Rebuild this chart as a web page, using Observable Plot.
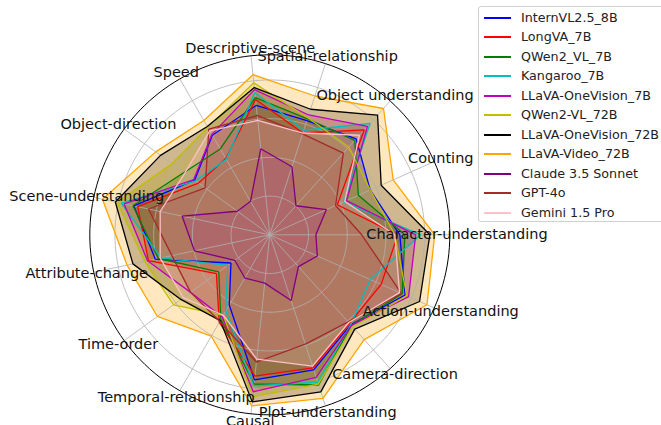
<!DOCTYPE html>
<html><head><meta charset="utf-8">
<script src="https://cdn.jsdelivr.net/npm/d3@7"></script>
<script src="https://cdn.jsdelivr.net/npm/@observablehq/plot@0.6"></script>
<style>
body{margin:0;background:#fff;}
#chart{position:relative;width:661px;height:425px;overflow:hidden;font-family:"DejaVu Sans",sans-serif;}
#legend{position:absolute;left:478px;top:6px;width:200px;height:216px;border:1px solid #d0d0d0;border-radius:3px;background:rgba(255,255,255,0.85);box-sizing:border-box;}
.item{position:absolute;left:0;height:16px;font-size:12.7px;line-height:16px;white-space:nowrap;color:#222;}
.sw{position:absolute;left:5px;top:7px;width:27px;height:2px;}
.lb{position:absolute;left:42px;top:0;}
</style></head><body><div id="chart"><div id="legend"></div></div>
<script>
// axis categories (counter-clockwise from east)
const categories = ["Character-understanding","Counting","Object understanding","Spatial-relationship","Descriptive-scene","Speed","Object-direction","Scene-understanding","Attribute-change","Time-order","Temporal-relationship","Causal","Plot-understanding","Camera-direction","Action-understanding"];
const models = ["InternVL2.5_8B","LongVA_7B","QWen2_VL_7B","Kangaroo_7B","LLaVA-OneVision_7B","QWen2-VL_72B","LLaVA-OneVision_72B","LLaVA-Video_72B","Claude 3.5 Sonnet","GPT-4o","Gemini 1.5 Pro"];
const colors = ["#0000ff","#ff0000","#008000","#00bfbf","#bf00bf","#bfbf00","#000000","#ffa500","#800080","#a52a2a","#ffc0cb"];
// series values, one per category
const internvl25_8b   = [67.2,56.8,66.7,62.0,67.2,59.4,48.0,71.8,60.5,24.8,41.9,75.4,73.4,62.5,76.5];
const longva_7b       = [66.1,38.2,72.9,55.3,70.3,45.5,45.5,69.8,64.1,34.1,52.2,73.4,72.3,61.5,63.0];
const qwen2vl_7b      = [69.8,50.1,65.6,63.0,71.3,51.2,54.8,72.3,58.9,32.6,50.6,77.5,81.6,63.0,74.9];
const kangaroo_7b     = [78.0,41.9,77.5,56.8,73.9,45.0,47.5,78.5,57.4,26.9,45.5,78.5,80.1,62.5,56.8];
const llavaov_7b      = [75.4,43.4,75.4,65.1,75.4,59.9,48.6,77.0,64.6,50.6,49.1,81.6,77.5,63.0,78.5];
const qwen2vl_72b     = [64.6,56.8,61.0,63.6,79.0,64.1,62.5,80.6,66.1,61.5,48.0,84.2,81.1,64.1,77.5];
const llavaov_72b     = [82.7,63.0,83.2,68.2,76.5,64.6,69.8,81.6,72.3,56.8,51.2,86.8,85.3,65.6,84.7];
const llavavideo_72b  = [85.2,69.8,87.8,75.4,83.2,68.2,72.9,88.4,75.4,71.8,60.5,88.9,88.9,72.9,88.9];
const claude35        = [23.8,32.0,20.2,37.0,44.7,20.0,20.7,46.3,39.8,22.4,25.8,25.1,35.7,22.1,26.9];
const gpt4o           = [47.5,37.2,56.8,54.8,62.0,63.0,41.3,64.1,51.7,50.6,51.7,66.1,59.4,60.5,74.4];
const gemini15pro     = [64.6,42.4,69.2,55.3,59.4,62.0,54.3,57.9,57.9,55.3,48.0,64.6,71.3,61.0,73.4];
const seriesValues = [internvl25_8b,longva_7b,qwen2vl_7b,kangaroo_7b,llavaov_7b,qwen2vl_72b,llavaov_72b,llavavideo_72b,claude35,gpt4o,gemini15pro];
const ringTicks = [20,40,60,80];
const rMax = 93;

const n = categories.length;
const ang = i => 2*Math.PI*i/n;
const polygon = vals => {
  const pts = vals.map((v,i)=>({x:v*Math.cos(ang(i)), y:v*Math.sin(ang(i))}));
  pts.push(pts[0]);
  return pts;
};
const circle = r => d3.range(0,361,2).map(a=>({x:r*Math.cos(a*Math.PI/180), y:r*Math.sin(a*Math.PI/180)}));
const spokes = categories.map((c,i)=>({x2:rMax*Math.cos(ang(i)), y2:rMax*Math.sin(ang(i))}));
const rLab = rMax + 3.7;
const labels = categories.map((c,i)=>({label:c, x:rLab*Math.cos(ang(i)), y:rLab*Math.sin(ang(i))}));

const marks = [];
seriesValues.forEach((vals,k)=>{
  marks.push(Plot.line(polygon(vals),{x:"x",y:"y",fill:colors[k],fillOpacity:0.25,stroke:"none"}));
});
ringTicks.forEach(r=>marks.push(Plot.line(circle(r),{x:"x",y:"y",stroke:"#b0b0b0",strokeWidth:0.8})));
marks.push(Plot.link(spokes,{x1:0,y1:0,x2:"x2",y2:"y2",stroke:"#b0b0b0",strokeWidth:0.8}));
seriesValues.forEach((vals,k)=>{
  marks.push(Plot.line(polygon(vals),{x:"x",y:"y",stroke:colors[k],strokeWidth:1.3,strokeLinejoin:"miter"}));
});
marks.push(Plot.line(circle(rMax),{x:"x",y:"y",stroke:"#000",strokeWidth:1}));
marks.push(Plot.text(labels,{x:"x",y:"y",text:"label",fontSize:14.5,fill:"#111",textAnchor:"middle"}));

const svg = Plot.plot({
  width:661, height:425, margin:0,
  style:{fontFamily:"DejaVu Sans, sans-serif", background:"transparent", overflow:"visible"},
  x:{type:"linear",domain:[-rMax,rMax],range:[89.3,449.3],axis:null},
  y:{type:"linear",domain:[-rMax,rMax],range:[414.3,54.3],axis:null},
  marks
});
const chart = document.getElementById("chart");
chart.insertBefore(svg, chart.firstChild);

const legend = document.getElementById("legend");
models.forEach((m,k)=>{
  const it = document.createElement("div");
  it.className="item"; it.style.top = (3 + k*19.47) + "px";
  it.innerHTML = `<span class="sw" style="background:${colors[k]}"></span><span class="lb">${m}</span>`;
  legend.appendChild(it);
});
</script></body></html>
